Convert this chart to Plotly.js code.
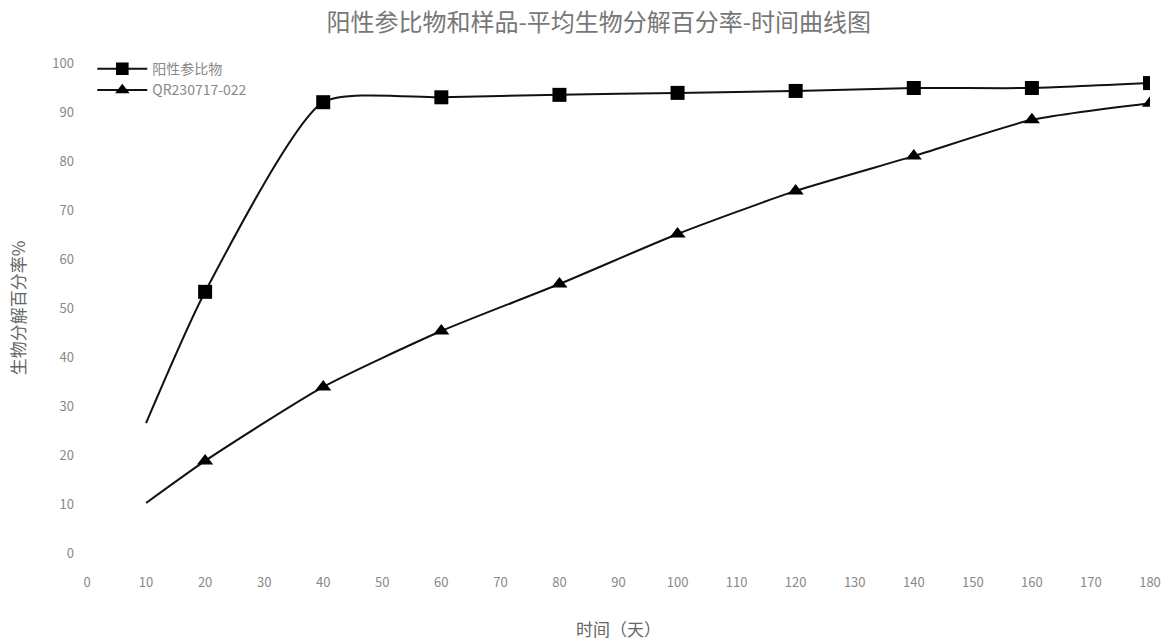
<!DOCTYPE html>
<html>
<head>
<meta charset="utf-8">
<script src="https://cdn.plot.ly/plotly-3.0.1.min.js"></script>
<style>html,body{margin:0;padding:0;background:#fff;}#chart{width:1174px;height:643px;}</style>
</head>
<body>
<div id="chart"></div>
<script>
const days = [10, 20, 40, 60, 80, 100, 120, 140, 160, 180];
const positiveRef = [26.5, 53.3, 92.0, 93.0, 93.5, 93.9, 94.3, 94.9, 94.9, 95.9];
const sampleVals = [10.2, 18.8, 33.9, 45.3, 54.9, 65.1, 73.9, 81.0, 88.4, 91.8];
const seriesNames = ["阳性参比物", "QR230717-022"];
const xTicks = [0,10,20,30,40,50,60,70,80,90,100,110,120,130,140,150,160,170,180];
const yTicks = [0,10,20,30,40,50,60,70,80,90,100];

const font = "'Noto Sans CJK SC', 'Noto Sans', sans-serif";
const sizes = days.map((d, i) => i === 0 ? 0 : 14);

const traces = [
  {x: days, y: positiveRef, name: seriesNames[0], type: 'scatter', mode: 'lines+markers',
   line: {color: '#111', width: 2, shape: 'spline', smoothing: 0.6},
   marker: {symbol: 'square', size: sizes, color: '#000', opacity: 1, line: {width: 0}}},
  {x: days, y: sampleVals, name: seriesNames[1], type: 'scatter', mode: 'lines+markers',
   line: {color: '#111', width: 2, shape: 'spline', smoothing: 0.6},
   marker: {symbol: 'triangle-up', size: sizes, color: '#000', opacity: 1, line: {width: 0}}}
];

const layout = {
  width: 1174, height: 643,
  margin: {l: 87, r: 24, t: 63, b: 90},
  paper_bgcolor: '#fff', plot_bgcolor: '#fff',
  font: {family: font, color: '#888'},
  title: {text: '阳性参比物和样品-平均生物分解百分率-时间曲线图', x: 0.51, xanchor: 'center', y: 0.965, yanchor: 'middle',
          font: {family: font, size: 24, color: '#777'}},
  showlegend: true,
  legend: {x: 0.005, y: 1.02, xanchor: 'left', yanchor: 'top', bgcolor: 'rgba(0,0,0,0)',
           font: {family: font, size: 14, color: '#888'}, tracegroupgap: 8, itemwidth: 50},
  xaxis: {range: [0, 180], tickvals: xTicks, ticktext: xTicks.map(String), showgrid: false, zeroline: false,
          showline: false, ticks: '', tickfont: {size: 13, color: '#888'}, ticklabelstandoff: 20,
          title: {text: '时间（天）', font: {family: font, size: 17, color: '#666'}, standoff: 34}},
  yaxis: {range: [0, 100], tickvals: yTicks, ticktext: yTicks.map(String), showgrid: false, zeroline: false,
          showline: false, ticks: '', tickfont: {size: 13, color: '#888'}, ticklabelstandoff: 12,
          title: {text: '生物分解百分率%', font: {family: font, size: 17, color: '#666'}, standoff: 22}}
};

Plotly.newPlot('chart', traces, layout, {displayModeBar: false, staticPlot: true});
</script>
</body>
</html>
